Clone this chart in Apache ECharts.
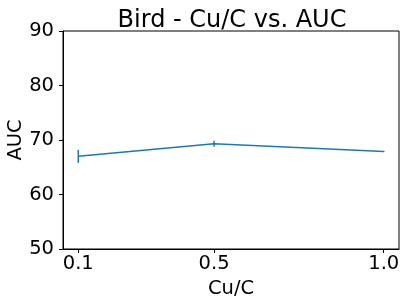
<!DOCTYPE html>
<html><head><meta charset="utf-8">
<script src="https://cdn.jsdelivr.net/npm/echarts@6/dist/echarts.min.js"></script>
<style>html,body{margin:0;padding:0;background:#fff}#c{width:405px;height:305px}</style>
</head><body><div id="c"></div>
<script>
const xValues = [0.1, 0.5, 1.0];
const aucValues = [67.0, 69.3, 67.9];
const aucErrors = [1.2, 0.55, 0.1];
const xTicks = [0.1, 0.5, 1.0];
const yTicks = [50, 60, 70, 80, 90];

const chart = echarts.init(document.getElementById('c'), null, {renderer: 'canvas'});
const font = 'DejaVu Sans';
const color = '#1f77b4';
const fs = 19.5;
const lineData = xValues.map((x, i) => [x, aucValues[i]]);
const errData = xValues.map((x, i) => [x, aucValues[i] - aucErrors[i], aucValues[i] + aucErrors[i]]);

chart.setOption({
  animation: false,
  title: {
    text: 'Bird - Cu/C vs. AUC',
    left: 227, top: 4, textAlign: 'center',
    textStyle: {fontFamily: font, fontSize: 24, fontWeight: 'normal', color: '#000'}
  },
  grid: {left: 63, top: 31, right: 6, bottom: 56, show: true, borderColor: '#000', borderWidth: 1,
    backgroundColor: 'transparent', outerBoundsMode: 'none', containLabel: false},
  xAxis: {
    type: 'value', min: 0.055, max: 1.045,
    name: 'Cu/C', nameLocation: 'middle', nameGap: 30, nameMoveOverlap: false,
    nameTextStyle: {fontFamily: font, fontSize: fs, color: '#000'},
    axisLine: {show: true, lineStyle: {color: '#000', width: 1}},
    axisTick: {show: true, length: 4, lineStyle: {color: '#000'}, customValues: xTicks},
    axisLabel: {fontFamily: font, fontSize: fs, color: '#000', margin: 5, customValues: xTicks,
      formatter: v => v.toFixed(1)},
    splitLine: {show: false}
  },
  yAxis: {
    type: 'value', min: 50, max: 90, interval: 10,
    name: 'AUC', nameLocation: 'middle', nameGap: 37, nameMoveOverlap: false,
    nameTextStyle: {fontFamily: font, fontSize: fs, color: '#000'},
    axisLine: {show: true, lineStyle: {color: '#000', width: 1}},
    axisTick: {show: true, length: 4, lineStyle: {color: '#000'}},
    axisLabel: {fontFamily: font, fontSize: fs, color: '#000', margin: 9},
    splitLine: {show: false}
  },
  series: [
    {
      type: 'line', data: lineData, symbol: 'none',
      lineStyle: {color: color, width: 1.5}, z: 3
    },
    {
      type: 'custom', data: errData, z: 4,
      encode: {x: 0, y: [1, 2]},
      renderItem: function (params, api) {
        const x = api.value(0);
        const lo = api.coord([x, api.value(1)]);
        const hi = api.coord([x, api.value(2)]);
        return {
          type: 'line',
          shape: {x1: lo[0], y1: lo[1], x2: hi[0], y2: hi[1]},
          style: {stroke: color, lineWidth: 1.5}
        };
      }
    }
  ]
});
</script></body></html>
